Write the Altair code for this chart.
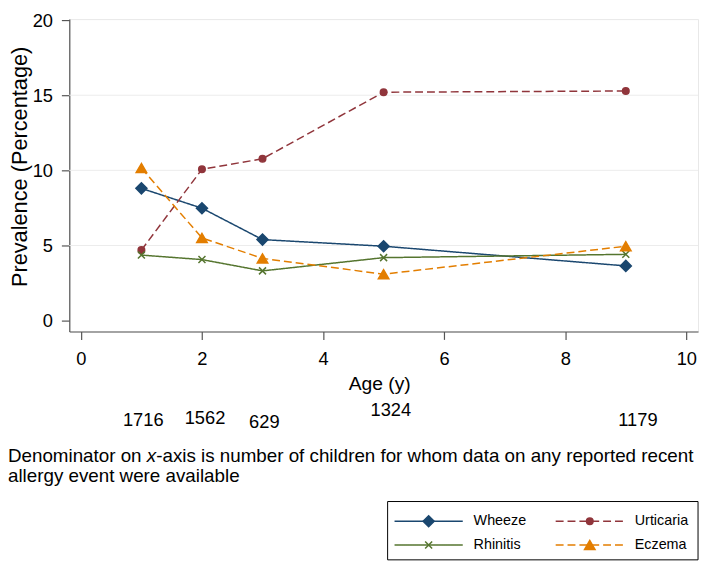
import altair as alt
import pandas as pd

# ---------------- data ----------------
ages = [1, 2, 3, 5, 9]
series = ["Wheeze", "Urticaria", "Rhinitis", "Eczema"]
wheeze = [8.80, 7.48, 5.39, 4.95, 3.64]
urticaria = [4.69, 10.07, 10.77, 15.20, 15.28]
rhinitis = [4.36, 4.06, 3.31, 4.19, 4.41]
eczema = [10.15, 5.50, 4.14, 3.09, 4.95]
denom_n = ["1716", "1562", "629", "1324", "1179"]
denom_pos = [1.03, 2.05, 3.03, 5.12, 9.20]
x_ticks = [0, 2, 4, 6, 8, 10]
y_ticks = [0, 5, 10, 15, 20]
grid_vals = [5, 10, 15]
note_parts = ["Denominator on ", "x",
              "-axis is number of children for whom data on any reported recent"]
note_line2 = "allergy event were available"

# ---------------- styles / layout ----------------
FONT = "Liberation Sans"
colors = ["#1a476f", "#90353b", "#55752f", "#e37e00"]
dashes = [[1, 0], [8, 4], [1, 0], [8, 4]]
marker_shapes = ["diamond", "circle", "M-1,-1L1,1M-1,1L1,-1", "triangle-up"]
marker_sizes = [125, 44, 50, 112]
TOP = 16                                    # page y of the plot top
LEFT = 70                                   # page x of the plot left
denom_baseline = [428, 426, 430, 417, 428]  # page rows of the denominator labels
legend_col = [0, 1, 0, 1]                   # legend grid slot of each series
legend_row = [0, 0, 1, 1]
legend_col_x = [399, 562]                   # page x where each legend key starts
legend_row_y = [524, 548]                   # page y of each legend row
legend_box = (392, 504, 706, 563)           # page box of the legend

values = {"Wheeze": wheeze, "Urticaria": urticaria,
          "Rhinitis": rhinitis, "Eczema": eczema}
rows = []
for s in series:
    for a, v in zip(ages, values[s]):
        rows.append({"series": s, "age": a, "value": v})
df = pd.DataFrame(rows)

W, H = 636, 316
x_scale = alt.Scale(domain=[-0.191, 10.193], nice=False, zero=False)
y_scale = alt.Scale(domain=[-0.724, 20.066], nice=False, zero=False)
color_scale = alt.Scale(domain=series, range=colors)


def vx(px):
    return px - LEFT


def vy(py):
    return py - TOP


x_axis = alt.Axis(values=x_ticks, title="Age (y)", grid=False, format="d",
                  tickSize=8, labelPadding=10, labelFont=FONT, labelFontSize=18.5,
                  labelColor="black", labelOverlap=False,
                  titleFont=FONT, titleFontSize=19.5, titleFontWeight="normal",
                  titleColor="black", titleX=313.5, titleY=391 - (TOP + H),
                  titleAlign="center", titleBaseline="alphabetic",
                  domainColor="#555555", tickColor="#555555", domainWidth=1.2, tickWidth=1.2)
y_axis = alt.Axis(values=y_ticks, title="Prevalence (Percentage)", grid=False, format="d",
                  tickSize=8, labelPadding=9, labelFont=FONT, labelFontSize=18.5,
                  labelColor="black", labelOverlap=False,
                  titleFont=FONT, titleFontSize=22, titleFontWeight="normal",
                  titleColor="black", titleX=-50, titleY=165 - TOP, titleAngle=270,
                  titleAlign="center", titleBaseline="middle",
                  domainColor="#555555", tickColor="#555555", domainWidth=1.2, tickWidth=1.2)

base = alt.Chart(df)

grid = alt.Chart(pd.DataFrame({"g": grid_vals})).mark_rule(
    color="#ececec", strokeWidth=1
).encode(y=alt.Y("g:Q", scale=y_scale, axis=y_axis))

lines = base.mark_line(strokeWidth=1.5).encode(
    x=alt.X("age:Q", scale=x_scale, axis=x_axis),
    y=alt.Y("value:Q", scale=y_scale, axis=y_axis),
    color=alt.Color("series:N", scale=color_scale, legend=None),
    strokeDash=alt.StrokeDash("series:N", scale=alt.Scale(domain=series, range=dashes),
                              legend=None),
    order=alt.Order("age:Q"),
)

marker_layers = []
for s, c, shp, sz in zip(series, colors, marker_shapes, marker_sizes):
    marker_layers.append(
        base.transform_filter(alt.datum.series == s).mark_point(
            shape=shp, size=sz, filled=True, fill=c, stroke=c, strokeWidth=1.5, opacity=1
        ).encode(x=alt.X("age:Q", scale=x_scale), y=alt.Y("value:Q", scale=y_scale))
    )

# ---------------- legend (key line + marker + label per series) ----------------
one = pd.DataFrame({"a": [0]})
bx0, by0, bx1, by1 = legend_box
legend_layers = [
    alt.Chart(one).mark_rect(fill="white", stroke="black", strokeWidth=1).encode(
        x=alt.value(vx(bx0)), x2=alt.value(vx(bx1)),
        y=alt.value(vy(by0)), y2=alt.value(vy(by1)))
]
for s, c, d, shp, sz, col, row in zip(series, colors, dashes, marker_shapes, marker_sizes,
                                        legend_col, legend_row):
    x0 = legend_col_x[col]
    yy = vy(legend_row_y[row])
    legend_layers.append(
        alt.Chart(one).mark_rule(color=c, strokeWidth=1.5, strokeDash=d).encode(
            x=alt.value(vx(x0)), x2=alt.value(vx(x0 + 69)), y=alt.value(yy)))
    legend_layers.append(
        alt.Chart(one).mark_point(shape=shp, size=sz, filled=True, fill=c, stroke=c,
                                  strokeWidth=1.5, opacity=1).encode(
            x=alt.value(vx(x0 + 34.5)), y=alt.value(yy)))
    legend_layers.append(
        alt.Chart(one).mark_text(text=s, font=FONT, fontSize=14.5, color="black",
                                 align="left", baseline="middle").encode(
            x=alt.value(vx(x0 + 80)), y=alt.value(yy)))

denoms = []
for n, p, b in zip(denom_n, denom_pos, denom_baseline):
    denoms.append(
        alt.Chart(pd.DataFrame({"pos": [p], "n": [n]})).mark_text(
            font=FONT, fontSize=18.5, color="black", baseline="alphabetic", align="center"
        ).encode(x=alt.X("pos:Q", scale=x_scale), y=alt.value(vy(b)), text="n:N")
    )

fs_note = 19
w_a = 7.392 * fs_note
w_x = 0.5 * fs_note
L1, L2 = vy(464), vy(484)
NX = vx(8)
note1 = alt.Chart(one).mark_text(
    text=note_parts[0], font=FONT, fontSize=fs_note, color="black",
    align="left", baseline="alphabetic"
).encode(x=alt.value(NX), y=alt.value(L1))
note_x = alt.Chart(one).mark_text(
    text=note_parts[1], font=FONT, fontSize=fs_note, fontStyle="italic", color="black",
    align="left", baseline="alphabetic"
).encode(x=alt.value(NX + w_a), y=alt.value(L1))
note3 = alt.Chart(one).mark_text(
    text=note_parts[2], font=FONT, fontSize=fs_note, color="black",
    align="left", baseline="alphabetic"
).encode(x=alt.value(NX + w_a + w_x), y=alt.value(L1))
note4 = alt.Chart(one).mark_text(
    text=note_line2, font=FONT, fontSize=fs_note, color="black",
    align="left", baseline="alphabetic"
).encode(x=alt.value(NX), y=alt.value(L2))

chart = alt.layer(grid, lines, *marker_layers, *legend_layers, *denoms,
                  note1, note_x, note3, note4).properties(
    width=W, height=H,
    autosize=alt.AutoSizeParams(type="none"),
    padding={"left": LEFT - 8, "top": TOP - 8, "right": 3,
             "bottom": 557 - (TOP - 8) - H},
    background="white",
).configure_view(stroke="#e8e8e8")

chart.save("out.html", embed_options={"renderer": "svg", "actions": False})
